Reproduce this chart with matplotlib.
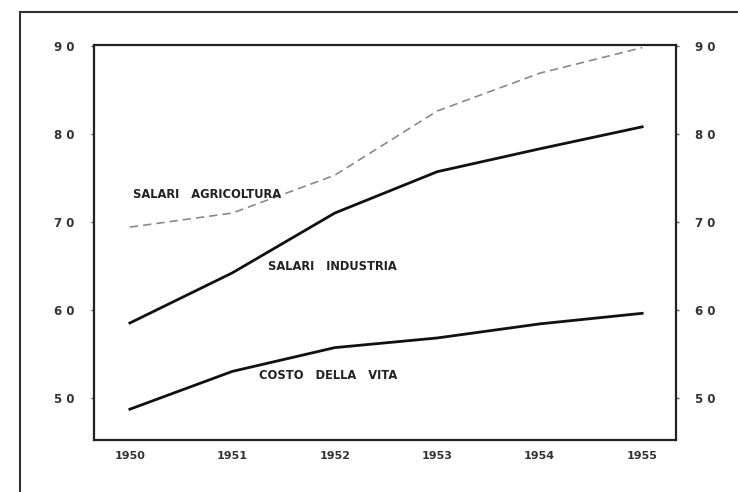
import matplotlib.pyplot as plt
from matplotlib.lines import Line2D

anni = [1950, 1951, 1952, 1953, 1954, 1955]
salari_agricoltura = [69.4, 71.0, 75.3, 82.6, 86.9, 89.8]
salari_industria = [58.5, 64.2, 71.0, 75.7, 78.3, 80.8]
costo_della_vita = [48.7, 53.0, 55.7, 56.8, 58.4, 59.6]

y_ticks = [50, 60, 70, 80, 90]
y_labels = ['5 0', '6 0', '7 0', '8 0', '9 0']

fig = plt.figure(figsize=(7.38, 4.92), dpi=100)
ax = fig.add_axes([0.1274, 0.1057, 0.7886, 0.8028])

ax.plot(anni, salari_agricoltura, color='#8a8a8a', lw=1.2, ls=(0, (5, 3)))
ax.plot(anni, salari_industria, color='#111111', lw=2.0)
ax.plot(anni, costo_della_vita, color='#111111', lw=2.0)

ax.text(1950.03, 73.1, 'SALARI   AGRICOLTURA', fontsize=8.3, fontweight='bold',
        color='#222222', va='center')
ax.text(1951.35, 64.9, 'SALARI   INDUSTRIA', fontsize=8.3, fontweight='bold',
        color='#222222', va='center')
ax.text(1951.26, 52.5, 'COSTO   DELLA   VITA', fontsize=8.3, fontweight='bold',
        color='#222222', va='center')

ax.set_xlim(1949.65, 1955.33)
ax.set_ylim(45.2, 90.1)
ax.set_xticks(anni)
ax.set_xticklabels([str(a) for a in anni], fontsize=8, fontweight='bold', color='#333333')
ax.set_yticks(y_ticks)
ax.set_yticklabels(y_labels, fontsize=8.5, fontweight='bold', color='#333333')
ax.tick_params(axis='y', left=True, right=True, labelleft=True, labelright=True,
               length=2, width=1, pad=12, color='#555555')
ax.tick_params(axis='x', length=0, pad=8)
for s in ax.spines.values():
    s.set_linewidth(1.6)
    s.set_color('#222222')

# cornice esterna
fig.add_artist(Line2D([0.027, 0.027], [0.0, 0.975], color='#333333', lw=1.5))
fig.add_artist(Line2D([0.027, 1.0], [0.975, 0.975], color='#333333', lw=1.5))

fig.savefig('out.png', dpi=100)
